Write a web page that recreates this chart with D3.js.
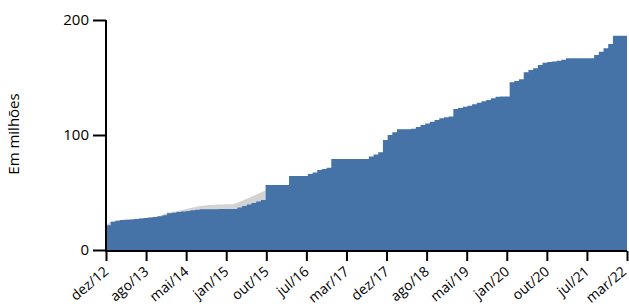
<!DOCTYPE html>
<html><head><meta charset="utf-8">
<script src="https://cdn.jsdelivr.net/npm/d3@7"></script>
<style>body{margin:0;background:#fff;} svg{display:block;font-family:"Open Sans","Noto Sans",sans-serif;}</style>
</head><body>
<svg id="chart" width="629" height="306"></svg>
<script>
// monthly values, index 0 = dez/12 ... 111 = mar/22
const blueValues = [
 21.5,24.5,25.5,26,26.3,26.6,27,27.4,27.8,28.3,28.8,29.4,30.2,
 32,32.5,33,33.5,34,34.5,35,35.4,35.5,35.5,35.5,35.6,35.6,35.6,35.6,
 37,38.3,39.6,40.9,42.2,43.5,
 56.5,56.5,56.5,56.5,56.5,
 64.3,64.3,64.3,64.3,
 66,67.5,69.6,70.5,71.6,
 79.1,79.1,79.1,79.1,79.1,79.1,79.1,79.1,
 81.2,83,85,95.7,100,102.3,105,105,105,105.5,107,108.7,110,111.5,113,114.5,115.5,116,
 122.6,123.5,124.6,125.5,126.7,128,129.3,130.4,132,133.3,133.5,133.5,
 145.8,147,148.5,154.5,156.5,158,160.9,162.9,163.5,164,164.6,165.5,
 166.7,166.7,166.7,166.7,166.7,166.7,
 169.6,172.4,175.4,179.1,186.4,186.4,186.4,186.4
];
const grayValues = [
 21.5,24.5,25.5,26,26.3,26.6,27,27.4,27.8,28.3,28.8,29.4,30.2,
 32.3,33,33.7,34.5,35.5,36.5,37.5,38.3,38.8,39.2,39.4,39.5,39.6,39.7,39.7,
 41,42.8,44.6,46.4,48.2,50,52
];
const tickLabels = ["dez/12","ago/13","mai/14","jan/15","out/15","jul/16","mar/17","dez/17","ago/18","mai/19","jan/20","out/20","jul/21","mar/22"];
const yTicks = [0,100,200];
const yTitle = "Em milhões";

const svg = d3.select("#chart");
const x = d3.scaleLinear().domain([0, blueValues.length - 1]).range([106, 627]);
const y = d3.scaleLinear().domain([0, 200]).range([250, 20]);

const areaGen = d3.area().x((d,i)=>x(i)).y0(y(0)).y1(d=>y(d)).curve(d3.curveStepAfter);
const grayArea = d3.area().x((d,i)=>x(i)).y0(y(0)).y1(d=>y(d)).curve(d3.curveLinear);

svg.append("path").datum(grayValues).attr("d", grayArea).attr("fill", "#d3d3d3");
svg.append("path").datum(blueValues).attr("d", areaGen).attr("fill", "#4673a7");

// y axis
const yAxis = d3.axisLeft(y).tickValues(yTicks).tickSize(13).tickPadding(4).tickFormat(d3.format("d"));
const gy = svg.append("g").attr("transform", "translate(106,0)").call(yAxis);
gy.select(".domain").attr("stroke", "#000").attr("stroke-width", 2).attr("d", `M0,${y(200)}V${y(0)+1}`);
gy.selectAll(".tick line").attr("stroke", "#000").attr("stroke-width", 2);
gy.selectAll(".tick text").attr("font-size", 15).attr("fill", "#000").attr("font-family", '"Open Sans","Noto Sans",sans-serif');

// x axis
const n = tickLabels.length;
const tickPos = tickLabels.map((t,i)=> i*(blueValues.length-1)/(n-1));
const xAxis = d3.axisBottom(x).tickValues(tickPos).tickSize(10).tickFormat((d,i)=>tickLabels[i]);
const gx = svg.append("g").attr("transform", "translate(0,251)").call(xAxis);
gx.select(".domain").attr("stroke", "#000").attr("stroke-width", 2).attr("d", `M${x(0)-1},0H${x(blueValues.length-1)}`);
gx.selectAll(".tick line").attr("stroke", "#000").attr("stroke-width", 2);
gx.selectAll(".tick text")
  .attr("font-size", 14).attr("fill", "#000").attr("font-family", '"Open Sans","Noto Sans",sans-serif')
  .attr("text-anchor", "end").attr("dy", null)
  .attr("transform", (d,i)=> i === n-1 ? "translate(0,22) rotate(-40)" : "translate(3,22) rotate(-40)")
  .attr("y", 0).attr("x", 0);

svg.append("text").attr("transform", "translate(19,134) rotate(-90)")
  .attr("text-anchor", "middle").attr("font-size", 15).attr("fill", "#000").text(yTitle);
</script>
</body></html>
